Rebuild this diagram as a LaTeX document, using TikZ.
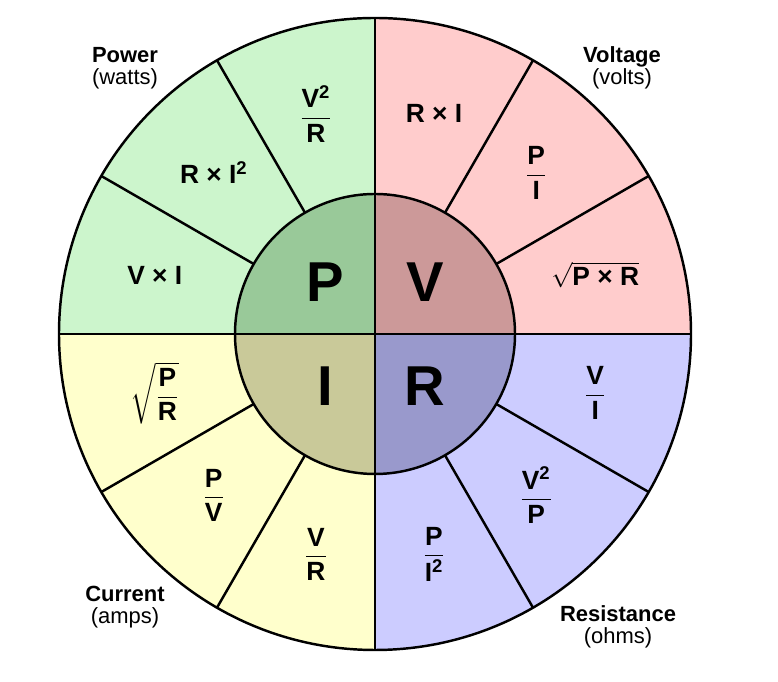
\documentclass[tikz,border=0pt]{standalone}
\usepackage{amsmath}
\usepackage{fontspec}
\setmainfont{Liberation Sans}
\usetikzlibrary{calc}
\definecolor{pwr}{HTML}{CCF5CC}
\definecolor{vlt}{HTML}{FFCCCC}
\definecolor{res}{HTML}{CCCCFF}
\definecolor{cur}{HTML}{FFFFCC}
\definecolor{pwrin}{HTML}{99C999}
\definecolor{vltin}{HTML}{CC9999}
\definecolor{resin}{HTML}{9999CC}
\definecolor{curin}{HTML}{C9C999}
\newcommand{\fr}[2]{$\dfrac{\text{#1}}{\text{#2}}$}
\newcommand{\sq}{\textsuperscript{2}}
\begin{document}
\begin{tikzpicture}[x=0.02cm,y=0.02cm,line width=1.4pt,
  frm/.style={font=\bfseries\fontsize{15}{16}\selectfont},
  big/.style={font=\bfseries\fontsize{32}{33}\selectfont},
  qty/.style={align=center,font=\fontsize{12.5}{12.5}\selectfont,inner sep=0pt}]
  \useasboundingbox (0,0) rectangle (778,682);
  \coordinate (c) at (375,348);
  % outer quadrants
  \fill[pwr] (c) -- ++(90:316) arc (90:180:316) -- cycle;
  \fill[vlt] (c) -- ++(0:316) arc (0:90:316) -- cycle;
  \fill[res] (c) -- ++(-90:316) arc (-90:0:316) -- cycle;
  \fill[cur] (c) -- ++(180:316) arc (180:270:316) -- cycle;
  \foreach \a in {0,30,...,330}
    \draw ($(c)+(\a:140)$) -- ($(c)+(\a:316)$);
  % inner quadrants
  \fill[pwrin] (c) -- ++(90:140) arc (90:180:140) -- cycle;
  \fill[vltin] (c) -- ++(0:140) arc (0:90:140) -- cycle;
  \fill[resin] (c) -- ++(-90:140) arc (-90:0:140) -- cycle;
  \fill[curin] (c) -- ++(180:140) arc (180:270:140) -- cycle;
  \draw (c) circle (316);
  \draw (c) circle (140);
  \draw ($(c)+(0,316)$) -- ($(c)+(0,-316)$);
  \draw ($(c)+(-316,0)$) -- ($(c)+(316,0)$);

  \node[big] (p) at ($(c)+(-50,52)$) {P};
  \node[big] (v) at ($(c)+(50,52)$) {V};
  \node[big] (i) at ($(c)+(-50,-52)$) {I};
  \node[big] (r) at ($(c)+(50,-52)$) {R};

  \node[frm] (p1) at ($(c)+(105:228)$) {\fr{V\sq}{R}};
  \node[frm] (p2) at ($(c)+(135:228)$) {R × I\sq};
  \node[frm] (p3) at ($(c)+(165:228)$) {V × I};
  \node[frm] (v1) at ($(c)+(75:228)$) {R × I};
  \node[frm] (v2) at ($(c)+(45:228)$) {\fr{P}{I}};
  \node[frm] (v3) at ($(c)+(15:228)$) {$\sqrt{\text{P × R}}$};
  \node[frm] (r1) at ($(c)+(-15:228)$) {\fr{V}{I}};
  \node[frm] (r2) at ($(c)+(-45:228)$) {\fr{V\sq}{P}};
  \node[frm] (r3) at ($(c)+(-75:228)$) {\fr{P}{I\sq}};
  \node[frm] (i1) at ($(c)+(195:228)$) {$\sqrt{\dfrac{\text{P}}{\text{R}}}$};
  \node[frm] (i2) at ($(c)+(225:228)$) {\fr{P}{V}};
  \node[frm] (i3) at ($(c)+(255:228)$) {\fr{V}{R}};

  \node[qty] (pw) at (125,614) {\textbf{Power}\\(watts)};
  \node[qty] (vo) at (622,614) {\textbf{Voltage}\\(volts)};
  \node[qty] (cu) at (125,75) {\textbf{Current}\\(amps)};
  \node[qty] (re) at (618,55) {\textbf{Resistance}\\(ohms)};
\end{tikzpicture}
\end{document}
